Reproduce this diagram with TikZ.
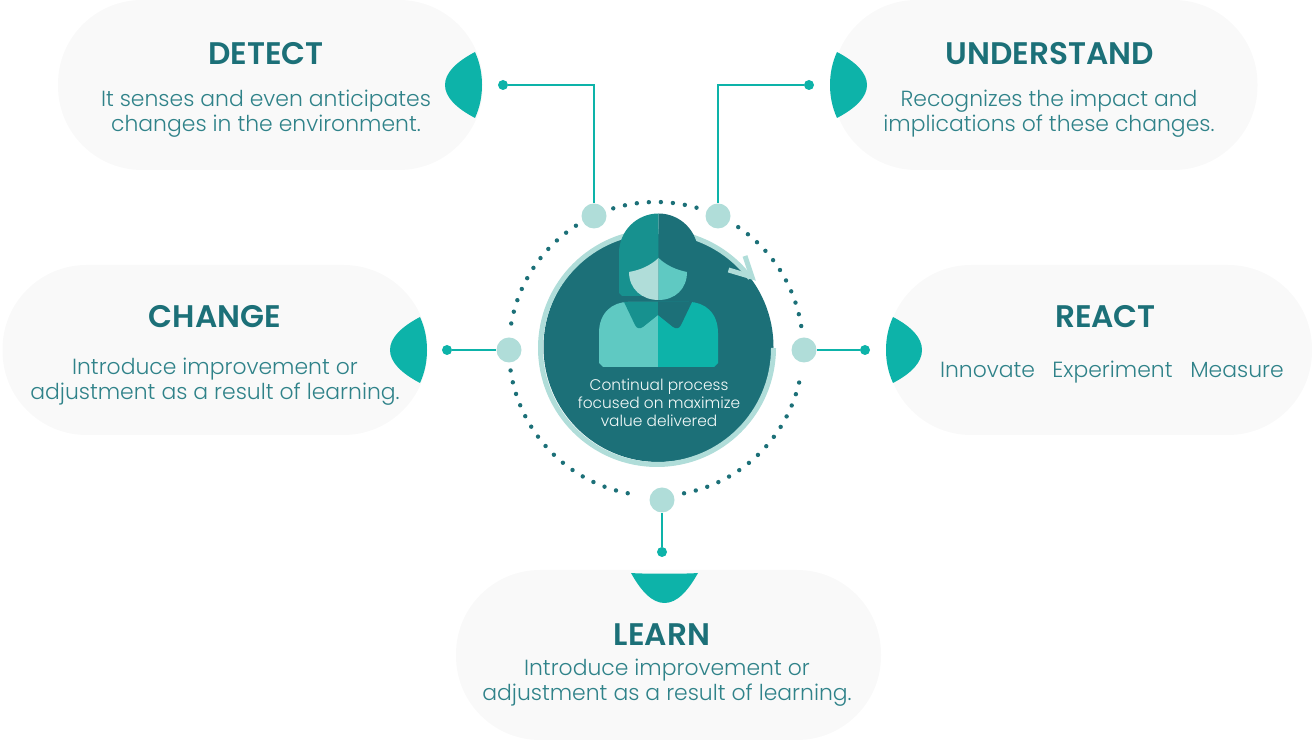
\documentclass[tikz,border=0pt]{standalone}
\usepackage{fontspec}
\setmainfont{Poppins Light}[BoldFont=Poppins SemiBold]
\usepackage{xcolor}
\definecolor{tealdark}{HTML}{1C7078}
\definecolor{tealmid}{HTML}{17918F}
\definecolor{tealbright}{HTML}{0DB3A9}
\definecolor{teallight}{HTML}{5FC9C2}
\definecolor{tealpale}{HTML}{B0DDD9}
\definecolor{pillgrey}{HTML}{F9F9F9}
\definecolor{bodytext}{HTML}{2F8289}
\tikzset{
  pill/.style={fill=pillgrey, minimum width=425, minimum height=170, rounded corners=84pt, inner sep=0},
  title/.style={text=tealdark, font=\fontsize{31.2}{34}\selectfont\bfseries, inner sep=0},
  body/.style={text=bodytext, font=\fontsize{21.9}{25}\selectfont, align=center, inner sep=0},
  hub/.style={circle, fill=tealpale, minimum size=25, inner sep=0},
  tip/.style={circle, fill=tealbright, minimum size=10, inner sep=0},
  link/.style={draw=tealbright, line width=2.8}
}
\begin{document}
\begin{tikzpicture}[x=1pt,y=1pt]
  \useasboundingbox (0,0) rectangle (1312,741);

  % Background pills
  \node[pill] (detectpill) at (270.5,656) {};
  \node[pill] (understandpill) at (1045,656) {};
  \node[pill] (changepill) at (215,391) {};
  \node[pill] (reactpill) at (1099.5,391) {};
  \node[pill] (learnpill) at (668.5,86) {};

  % Dotted ring
  \foreach \a in {9,13.7,...,58} {\fill[tealdark] (656,392)+(\a:147) circle (2.2);}
  \foreach \a in {74,78.7,...,108} {\fill[tealdark] (656,392)+(\a:147) circle (2.2);}
  \foreach \a in {123,127.7,...,172} {\fill[tealdark] (656,392)+(\a:147) circle (2.2);}
  \foreach \a in {188.4,193.1,...,263} {\fill[tealdark] (656,392)+(\a:147) circle (2.2);}
  \foreach \a in {281,285.7,...,351} {\fill[tealdark] (656,392)+(\a:147) circle (2.2);}

  % Centre disc and arrow
  \fill[tealdark] (658.5,394) circle (115);
  \draw[tealpale, line width=5] (773.5,393) arc[start angle=0, end angle=-323.2, radius=116.5];
  \draw[tealpale, line width=5] (728.5,471) -- (752,464) -- (745,485);

  % Person
  \fill[tealmid] (658.5,445) -- (622,445) -- (619,448) -- (619,488) arc[start angle=180, end angle=90, radius=39.5] -- cycle;
  \fill[tealdark] (658.5,445) -- (695,445) -- (698,448) -- (698,488) arc[start angle=0, end angle=90, radius=39.5] -- cycle;
  \fill[tealpale] (658.5,483) .. controls (650,475) and (640,471) .. (629,469) .. controls (629,452) and (642,441) .. (658.5,441) -- cycle;
  \fill[teallight] (658.5,483) .. controls (667,475) and (677,471) .. (687,469) .. controls (687,452) and (675,441) .. (658.5,441) -- cycle;
  \fill[teallight] (658,374) -- (603,374) -- (599,378) -- (599,408) .. controls (599,428) and (612,439) .. (628,439) -- (658,439) -- cycle;
  \fill[tealbright] (658,374) -- (714,374) -- (718,378) -- (718,408) .. controls (718,428) and (705,439) .. (689,439) -- (658,439) -- cycle;
  \fill[tealmid] (658,439) -- (624,439) -- (635,416) .. controls (637,412) and (640,412) .. (643,414) -- (658,426) -- cycle;
  \fill[tealdark] (658,439) -- (692,439) -- (681,416) .. controls (679,412) and (676,412) .. (673,414) -- (658,426) -- cycle;

  % Leaves
  \fill[tealbright] (475,689) .. controls (456,679) and (445,668) .. (445,656) .. controls (445,644) and (456,633) .. (475,623) .. controls (480,634) and (482,645) .. (482,656) .. controls (482,667) and (480,678) .. (475,689) -- cycle;
  \fill[tealbright] (837,689) .. controls (856,679) and (867,668) .. (867,656) .. controls (867,644) and (856,633) .. (837,623) .. controls (832,634) and (830,645) .. (830,656) .. controls (830,667) and (832,678) .. (837,689) -- cycle;
  \fill[tealbright] (420,424) .. controls (401,414) and (390,403) .. (390,391) .. controls (390,379) and (401,368) .. (420,358) .. controls (425,369) and (427,380) .. (427,391) .. controls (427,402) and (425,413) .. (420,424) -- cycle;
  \fill[tealbright] (893,424) .. controls (912,414) and (922,403) .. (922,391) .. controls (922,379) and (912,368) .. (893,358) .. controls (888,369) and (886,380) .. (886,391) .. controls (886,402) and (888,413) .. (893,424) -- cycle;
  \fill[tealbright] (631,168) .. controls (641,150) and (652,138) .. (664.5,138) .. controls (677,138) and (688,150) .. (698,168) .. controls (687,167) and (642,167) .. (631,168) -- cycle;

  % Hubs, end points and links
  \node[hub] (hubdetect) at (594,525) {};
  \node[hub] (hubunderstand) at (718,525) {};
  \node[hub] (hubchange) at (509,391) {};
  \node[hub] (hubreact) at (804,391) {};
  \node[hub] (hublearn) at (662,241) {};
  \node[tip] (tipdetect) at (503,656) {};
  \node[tip] (tipunderstand) at (809,656) {};
  \node[tip] (tipchange) at (447,391) {};
  \node[tip] (tipreact) at (865,391) {};
  \node[tip] (tiplearn) at (662,189) {};
  \draw[link] (tipdetect) -| (hubdetect);
  \draw[link] (tipunderstand) -| (hubunderstand);
  \draw[link] (tipchange) -- (hubchange);
  \draw[link] (tipreact) -- (hubreact);
  \draw[link] (tiplearn) -- (hublearn);

  % Texts
  \node[title] (detecttitle) at (266,687) {DETECT};
  \node[body] (detecttext) at (266,627) {It senses and even anticipates\\changes in the environment.};
  \node[title] (understandtitle) at (1049.5,687) {UNDERSTAND};
  \node[body] (understandtext) at (1049,627) {Recognizes the impact and\\implications of these changes.};
  \node[title] (changetitle) at (215,424) {CHANGE};
  \node[body] (changetext) at (215,359.5) {Introduce improvement or\\adjustment as a result of learning.};
  \node[title] (reacttitle) at (1105.5,424) {REACT};
  \node[body, anchor=base] (innovatetext) at (987.5,363) {Innovate};
  \node[body, anchor=base] (experimenttext) at (1112.5,363) {Experiment};
  \node[body, anchor=base] (measuretext) at (1237,363) {Measure};
  \node[title] (learntitle) at (662,106) {LEARN};
  \node[body] (learntext) at (667,58) {Introduce improvement or\\adjustment as a result of learning.};
  \node[text=white!85!tealpale, font=\fontsize{15.4}{17.8}\selectfont, align=center, inner sep=0] (disctext) at (659,338) {Continual process\\focused on maximize\\value delivered};
\end{tikzpicture}
\end{document}
